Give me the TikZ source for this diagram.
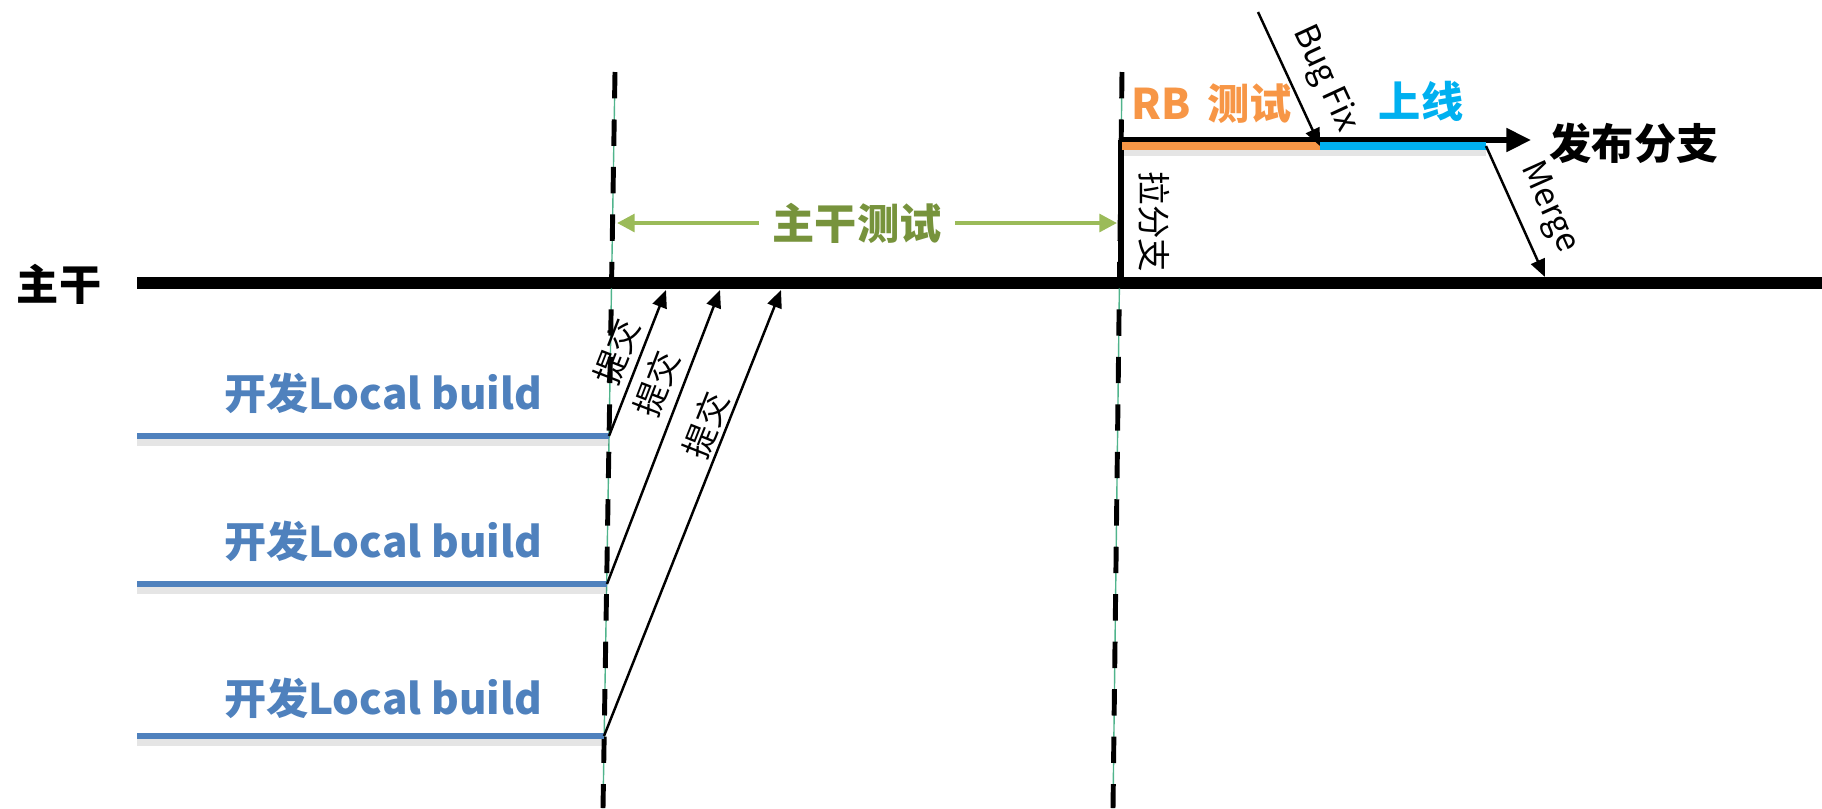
\documentclass[tikz,border=0pt]{standalone}
\usepackage{fontspec}
\usepackage{xcolor}
\usepackage{tikz}
\usetikzlibrary{arrows.meta, calc}
\setmainfont{Noto Sans CJK SC}
\definecolor{devcolor}{RGB}{79, 129, 189}
\definecolor{testline}{RGB}{155, 187, 89}
\definecolor{testtext}{RGB}{119, 147, 60}
\definecolor{rbcolor}{RGB}{247, 150, 70}
\definecolor{livecolor}{RGB}{0, 176, 240}
\definecolor{guidecolor}{RGB}{80, 180, 140}

\begin{document}
\begin{tikzpicture}[x=0.01cm, y=-0.01cm,
    title/.style={font=\bfseries\fontsize{12}{14}\selectfont, inner sep=0pt},
    note/.style={font=\fontsize{9.5}{11}\selectfont, inner sep=1pt},
    commit/.style={-{Triangle[length=5pt, width=4.2pt]}, line width=0.7pt},
    cutline/.style={line width=1.4pt, dash pattern=on 7.5pt off 6pt},
    devline/.style={devcolor, line width=1.7pt},
    shadowline/.style={black, opacity=0.1, line width=2.2pt},
    ]
    \useasboundingbox (0,0) rectangle (1822,808);

    % Trunk
    \coordinate (t0) at (137,283);
    \coordinate (t1) at (1822,283);
    \draw[line width=3.4pt] (t0) -- (t1);
    \node[title, anchor=east] (trunk) at (102,284) {主干};

    % Cut-off lines, with thin guides underneath
    \coordinate (freezeTop) at (615,72);
    \coordinate (freezeBot) at (603,808);
    \coordinate (branchTop) at (1122,72);
    \coordinate (branchBot) at (1113,808);
    \draw[guidecolor, line width=0.4pt] (freezeTop) -- (freezeBot);
    \draw[guidecolor, line width=0.4pt] (branchTop) -- (branchBot);
    \draw[cutline] (freezeTop) -- (freezeBot);
    \draw[cutline] (branchTop) -- (branchBot);

    % Local builds
    \foreach \y/\e/\n in {436/609/1, 584/607/2, 736/604/3} {
        \coordinate (dev\n) at (\e,\y);
        \draw[shadowline] (137,\y+6) -- (\e,\y+6);
        \draw[devline] (137,\y) -- (dev\n);
    }
    \node[title, devcolor] (build1) at (383,393) {开发Local build};
    \node[title, devcolor] (build2) at (383,541) {开发Local build};
    \node[title, devcolor] (build3) at (383,698) {开发Local build};

    % Commits into trunk
    \coordinate (c1) at (666,290);
    \coordinate (c2) at (720,290);
    \coordinate (c3) at (781,290);
    \draw[commit] (dev1) -- node[note, sloped, above=1pt, pos=0.52] {提交} (c1);
    \draw[commit] (dev2) -- node[note, sloped, above=1.5pt, pos=0.65] {提交} (c2);
    \draw[commit] (dev3) -- node[note, sloped, above, pos=0.68] {提交} (c3);

    % Trunk testing span
    \coordinate (s0) at (617,223);
    \coordinate (s1) at (1117,223);
    \draw[testline, line width=1.1pt, {Triangle[length=5pt, width=5pt]}-{Triangle[length=5pt, width=5pt]}] (s0) -- (s1);
    \node[title, testtext, fill=white, inner xsep=4pt, inner ysep=2pt] (span) at (857,223) {主干测试};

    % Release branch
    \coordinate (r0) at (1121,283);
    \coordinate (r1) at (1121,140);
    \coordinate (r2) at (1531,140);
    \coordinate (fix) at (1320,146);
    \coordinate (rEnd) at (1486,146);
    \draw[line width=1.5pt] (r0) -- (r1);
    \draw[shadowline] (1122,152) -- (1486,152);
    \draw[line width=1.5pt, -{Triangle[length=7pt, width=6.5pt]}] (r1) -- (r2);
    \draw[rbcolor, line width=2.3pt] (1122,146) -- (fix);
    \draw[livecolor, line width=2.3pt] (fix) -- (rEnd);
    \node[note, rotate=-90] (pull) at (1154,222) {拉分支};
    \node[title, rbcolor] (rb) at (1212,104) {RB\, 测试};
    \node[title, livecolor] (live) at (1421,101) {上线};
    \node[title, anchor=west] (release) at (1549,143) {发布分支};

    % Bug fix in, merge back
    \coordinate (bugSrc) at (1258,12);
    \coordinate (m1) at (1545,277);
    \draw[commit] (bugSrc) -- node[note, sloped, above=3pt, pos=0.6] {Bug Fix} (fix);
    \draw[commit] (rEnd) -- node[note, sloped, above=3pt, pos=0.57] {Merge} (m1);
\end{tikzpicture}
\end{document}
